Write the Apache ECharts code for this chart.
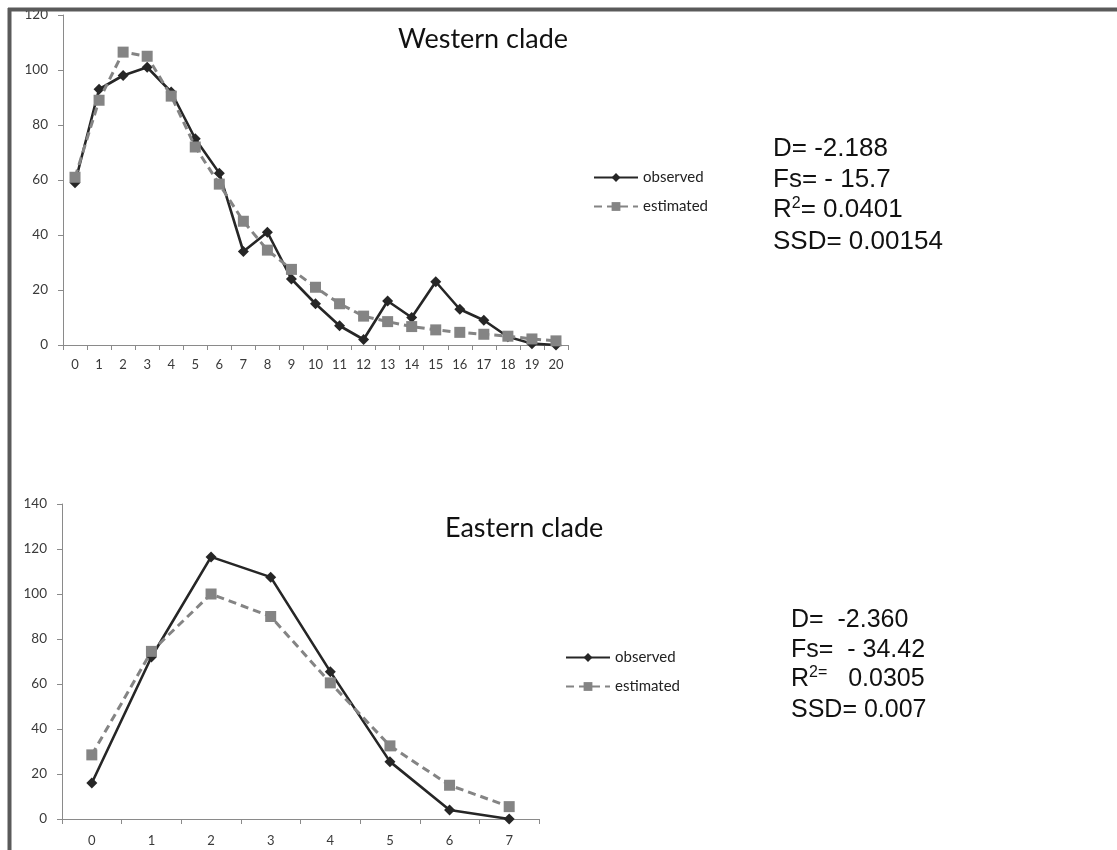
<!DOCTYPE html>
<html>
<head>
<meta charset="utf-8">
<script src="https://cdn.jsdelivr.net/npm/echarts@6/dist/echarts.min.js"></script>
<style>
  html, body { margin: 0; padding: 0; background: #ffffff; }
  #chart { width: 1117px; height: 850px; }
</style>
</head>
<body>
<div id="chart"></div>
<script>
// Mismatch distributions: observed vs. estimated pairwise differences
const westCategories = ['0','1','2','3','4','5','6','7','8','9','10','11','12','13','14','15','16','17','18','19','20'];
const westObserved  = [59, 93, 98, 101, 92, 75, 62.5, 34, 41, 24, 15, 7, 2, 16, 10, 23, 13, 9, 3, 0.5, 0];
const westEstimated = [61, 89, 106.5, 105, 90.5, 72, 58.5, 45, 34.5, 27.5, 21, 15, 10.5, 8.5, 6.7, 5.5, 4.6, 3.9, 3.2, 2.2, 1.5];

const eastCategories = ['0','1','2','3','4','5','6','7'];
const eastObserved  = [16, 72, 116.5, 107.5, 65.5, 25.5, 4, 0];
const eastEstimated = [28.5, 74.5, 100, 90, 60.5, 32.5, 15, 5.5];

const westStats = ['D= -2.188', 'Fs= - 15.7', ['R', '2', '= 0.0401'], 'SSD= 0.00154'];
const eastStats = ['D=  -2.360', 'Fs=  - 34.42', ['R', '2=', '   0.0305'], 'SSD= 0.007'];

const UI_FONT = 'Lato';
const STAT_FONT = 'Liberation Sans';
const AXIS_COLOR = '#8a8a8a';
const LABEL_COLOR = '#3a3a3a';
const OBS_COLOR = '#262626';
const EST_COLOR = '#848484';

function xAxisFor(gridIndex, cats, margin) {
  return {
    type: 'category', gridIndex, data: cats, boundaryGap: true,
    axisLine: { lineStyle: { color: AXIS_COLOR, width: 1 } },
    axisTick: { show: true, length: 5, lineStyle: { color: AXIS_COLOR } },
    axisLabel: { color: LABEL_COLOR, fontFamily: UI_FONT, fontSize: 13, margin, interval: 0 },
    splitLine: { show: false }
  };
}
function yAxisFor(gridIndex, max) {
  return {
    type: 'value', gridIndex, min: 0, max, interval: 20,
    axisLine: { show: true, lineStyle: { color: AXIS_COLOR, width: 1 } },
    axisTick: { show: true, length: 5, lineStyle: { color: AXIS_COLOR } },
    axisLabel: { color: LABEL_COLOR, fontFamily: UI_FONT, fontSize: 13.5, margin: 15 },
    splitLine: { show: false }
  };
}
function observedSeries(idx, data) {
  return {
    name: 'observed', type: 'line', xAxisIndex: idx, yAxisIndex: idx, data,
    symbol: 'diamond', symbolSize: 11, showAllSymbol: true,
    lineStyle: { color: OBS_COLOR, width: 2.6 },
    itemStyle: { color: OBS_COLOR },
    animation: false, z: 2
  };
}
function estimatedSeries(idx, data) {
  return {
    name: 'estimated', type: 'line', xAxisIndex: idx, yAxisIndex: idx, data,
    symbol: 'rect', symbolSize: 11, showAllSymbol: true,
    lineStyle: { color: EST_COLOR, width: 3, type: [8, 5] },
    itemStyle: { color: EST_COLOR },
    animation: false, z: 3
  };
}
function legendAt(left, top) {
  return {
    orient: 'vertical', left, top, padding: 0,
    data: ['observed', 'estimated'],
    itemWidth: 44, itemHeight: 11, itemGap: 14,
    textStyle: { fontFamily: UI_FONT, fontSize: 15, color: '#222' },
    selectedMode: false
  };
}
function statsText(lines, left, top, gap, size) {
  return lines.map((ln, i) => {
    const base = { type: 'text', left, top: top + i * gap, z: 10 };
    if (Array.isArray(ln)) {
      base.style = {
        text: '{n|' + ln[0] + '}{s|' + ln[1] + '}{n|' + ln[2] + '}',
        rich: {
          n: { fontFamily: STAT_FONT, fontSize: size, fill: '#111', lineHeight: 30, verticalAlign: 'bottom' },
          s: { fontFamily: STAT_FONT, fontSize: 16, fill: '#111', lineHeight: 30, verticalAlign: 'bottom', padding: [0, 0, 11, 0] }
        }
      };
    } else {
      base.style = { text: ln, fontFamily: STAT_FONT, fontSize: size, fill: '#111', lineHeight: 30 };
    }
    return base;
  });
}

const chart = echarts.init(document.getElementById('chart'), null, { renderer: 'canvas' });
chart.setOption({
  backgroundColor: '#ffffff',
  animation: false,
  title: [
    { text: 'Western clade', left: 398, top: 26, padding: 0, textStyle: { fontFamily: UI_FONT, fontSize: 27, fontWeight: 'normal', color: '#111' } },
    { text: 'Eastern clade', left: 445, top: 515, padding: 0, textStyle: { fontFamily: UI_FONT, fontSize: 27, fontWeight: 'normal', color: '#111' } }
  ],
  legend: [legendAt(593, 170), legendAt(565, 650)],
  grid: [
    { left: 63, top: 15, width: 505, height: 330 },
    { left: 62, top: 504, width: 477, height: 315 }
  ],
  xAxis: [xAxisFor(0, westCategories, 13), xAxisFor(1, eastCategories, 15)],
  yAxis: [yAxisFor(0, 120), yAxisFor(1, 140)],
  series: [
    observedSeries(0, westObserved),
    estimatedSeries(0, westEstimated),
    observedSeries(1, eastObserved),
    estimatedSeries(1, eastEstimated)
  ],
  graphic: [
    // frame along the top and left edges
    { type: 'line', shape: { x1: 8, y1: 9.5, x2: 1117, y2: 9.5 }, style: { stroke: '#5a5a5a', lineWidth: 4 }, z: 20 },
    { type: 'line', shape: { x1: 9.5, y1: 8, x2: 9.5, y2: 850 }, style: { stroke: '#5a5a5a', lineWidth: 4 }, z: 20 }
  ].concat(statsText(westStats, 773, 134, 31, 26), statsText(eastStats, 791, 605, 30, 25))
});
</script>
</body>
</html>
